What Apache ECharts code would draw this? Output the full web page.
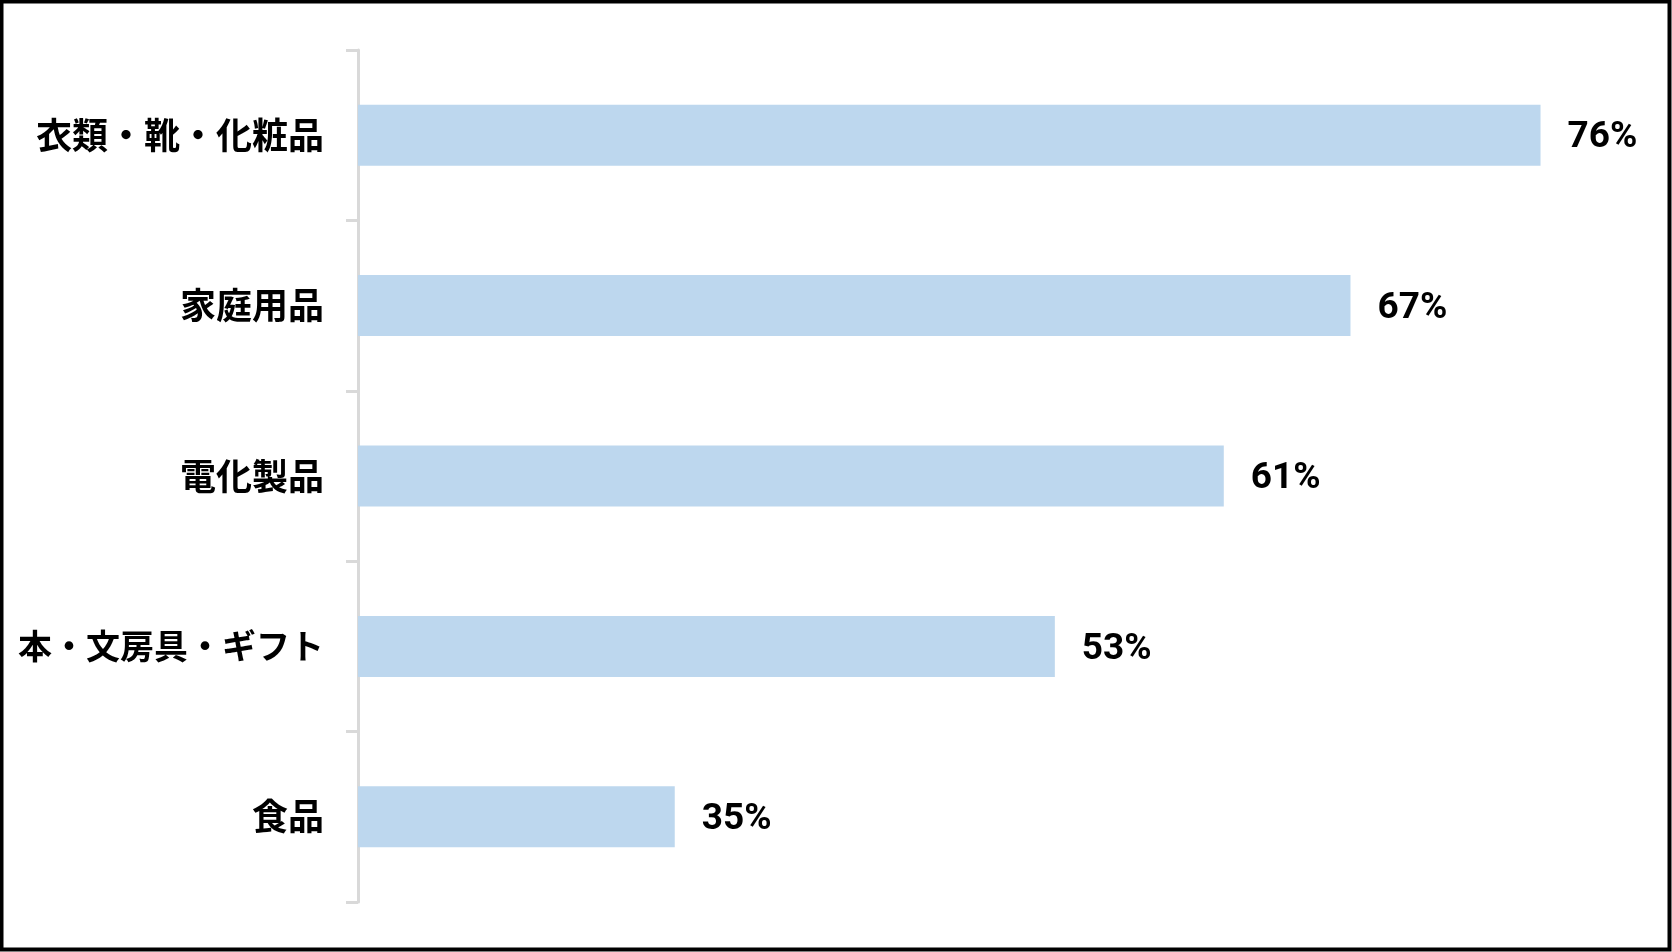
<!DOCTYPE html>
<html>
<head>
<meta charset="utf-8">
<script src="https://cdn.jsdelivr.net/npm/echarts@6/dist/echarts.min.js"></script>
<style>
html,body{margin:0;padding:0;background:#fff;}
#c{width:1672px;height:952px;}
</style>
</head>
<body>
<div id="c"></div>
<script>
const categories = ['衣類・靴・化粧品', '家庭用品', '電化製品', '本・文房具・ギフト', '食品'];
const values = [76, 67, 61, 53, 35];
const axisMin = 20;
const axisMax = 80;

const chart = echarts.init(document.getElementById('c'), null, {renderer: 'canvas'});
chart.setOption({
  backgroundColor: '#ffffff',
  animation: false,
  grid: {left: 358, right: 47, top: 50, bottom: 50, containLabel: false},
  xAxis: {
    type: 'value', min: axisMin, max: axisMax, show: false
  },
  yAxis: {
    type: 'category', data: categories, inverse: true,
    axisLine: {show: true, lineStyle: {color: '#d9d9d9', width: 3}},
    axisTick: {show: true, length: 12, lineStyle: {color: '#d9d9d9', width: 3}},
    axisLabel: {
      color: '#000', fontSize: 36, fontWeight: 'bold', margin: 34,
      fontFamily: '"Noto Sans CJK JP", sans-serif',
      formatter: v => v.length > 8 ? '{n|' + v + '}' : v,
      rich: {
        n: {color: '#000', fontSize: 34, fontWeight: 'bold', fontFamily: '"Noto Sans CJK JP", sans-serif'}
      }
    }
  },
  series: [{
    type: 'bar', data: values, barWidth: 61,
    itemStyle: {color: '#BDD7EE'},
    label: {
      show: true, position: 'right', distance: 27, offset: [0, 3],
      formatter: p => p.value + '%',
      color: '#000', fontSize: 37, fontWeight: 'bold',
      fontFamily: 'Roboto, sans-serif'
    }
  }],
  graphic: [{
    type: 'rect', silent: true, z: 100,
    shape: {x: 1.5, y: 1.5, width: 1668, height: 948},
    style: {fill: 'none', stroke: '#000', lineWidth: 4}
  }]
});
</script>
</body>
</html>
